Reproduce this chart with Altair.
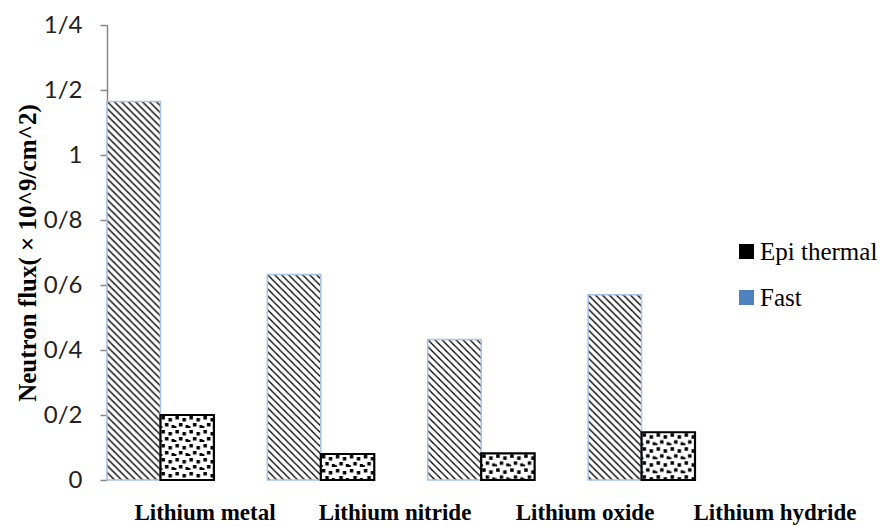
import altair as alt
import pandas as pd
from urllib.parse import quote

# ---------------- data ----------------
categories = ["Lithium metal", "Lithium nitride", "Lithium oxide", "Lithium hydride"]
series = ["Epi thermal", "Fast"]
fast_values = [1.165, 0.632, 0.432, 0.570]
epi_values = [0.200, 0.080, 0.082, 0.147]
y_ticks = [0, 0.2, 0.4, 0.6, 0.8, 1.0, 1.2, 1.4]
y_title = "Neutron flux( \u00d7 10^9/cm^2)"

# ---------------- fill patterns (styles) ----------------
hatch_svg = (
    "<svg xmlns='http://www.w3.org/2000/svg' width='100%' height='100%'>"
    "<defs><pattern id='h' width='7' height='7' patternUnits='userSpaceOnUse'>"
    "<rect width='7' height='7' fill='white'/>"
    "<path d='M-1,-1 L8,8 M-1,6 L1,8 M6,-1 L8,1' stroke='black' stroke-width='1.3'/>"
    "</pattern></defs><rect width='100%' height='100%' fill='url(#h)'/></svg>"
)
confetti_svg = (
    "<svg xmlns='http://www.w3.org/2000/svg' width='100%' height='100%'>"
    "<defs><pattern id='c' width='14' height='14' patternUnits='userSpaceOnUse'>"
    "<rect width='14' height='14' fill='white'/>"
    "<g fill='black'>"
    "<rect x='1' y='1' width='3.5' height='3.5'/>"
    "<rect x='8' y='3' width='3.5' height='3.5'/>"
    "<rect x='4.5' y='8' width='3.5' height='3.5'/>"
    "<rect x='11' y='10' width='3' height='3'/>"
    "<rect x='0' y='11' width='2' height='2'/>"
    "</g></pattern></defs><rect width='100%' height='100%' fill='url(#c)'/></svg>"
)
pattern_url = {
    "Fast": "data:image/svg+xml;charset=utf-8," + quote(hatch_svg),
    "Epi thermal": "data:image/svg+xml;charset=utf-8," + quote(confetti_svg),
}

# ---------------- table built from the arrays ----------------
rows = []
slots = []
for i, cat in enumerate(categories):
    for s, vals in (("Fast", fast_values), ("Epi thermal", epi_values)):
        slot = f"{i}-{s}"
        slots.append(slot)
        rows.append({"slot": slot, "category": cat, "series": s,
                     "value": vals[i], "url": pattern_url[s]})
    if i < len(categories) - 1:
        slots.append(f"{i}-gap")
df = pd.DataFrame(rows)
labels_df = pd.DataFrame({"category": categories})

AXIS_GRAY = "#868686"

x_slot = alt.X(
    "slot:N",
    scale=alt.Scale(domain=slots, paddingInner=0, paddingOuter=0),
    axis=alt.Axis(labels=False, title=None, tickBand="extent", tickSize=7,
                  tickColor=AXIS_GRAY, tickWidth=1.5, domainColor=AXIS_GRAY,
                  domainWidth=1.5),
)
x_slot_noaxis = alt.X("slot:N", scale=alt.Scale(domain=slots, paddingInner=0, paddingOuter=0), axis=None)

y_enc = alt.Y(
    "value:Q",
    scale=alt.Scale(domain=[0, 1.4], nice=False, zero=True),
    axis=alt.Axis(
        values=y_ticks,
        labelExpr="replace(format(datum.value, '.1~f'), '.', '/')",
        grid=False,
        title=y_title,
        titleFont="Liberation Serif",
        titleFontSize=25,
        titleFontWeight="bold",
        titleColor="black",
        titlePadding=3,
        labelFont="Lato",
        labelFontSize=24,
        labelColor="#222222",
        labelPadding=18,
        tickSize=7,
        tickColor=AXIS_GRAY,
        tickWidth=1.5,
        domainColor=AXIS_GRAY,
        domainWidth=1.5,
    ),
)

base = alt.Chart(df)

fill_layer = base.mark_bar().encode(
    x=x_slot,
    y=y_enc,
    y2=alt.datum(0),
    fill=alt.Fill(
        "series:N",
        scale=alt.Scale(domain=series, range=["#000000", "#4F81BD"]),
        legend=alt.Legend(
            title=None,
            orient="none",
            legendX=627,
            legendY=214,
            symbolType="square",
            symbolSize=225,
            symbolStrokeWidth=0,
            labelFont="Liberation Serif",
            labelFontSize=25,
            labelColor="black",
            labelOffset=1,
            rowPadding=20,
            padding=0,
        ),
    ),
)

image_layer = base.mark_image(aspect=False).encode(
    x=x_slot_noaxis,
    y=y_enc,
    y2=alt.datum(0),
    url="url:N",
)

border_layer = base.mark_bar(fillOpacity=0).encode(
    x=x_slot_noaxis,
    y=y_enc,
    y2=alt.datum(0),
    stroke=alt.Stroke("series:N",
                      scale=alt.Scale(domain=series, range=["#000000", "#A9C1EA"]),
                      legend=None),
    strokeWidth=alt.condition(alt.datum.series == "Fast", alt.value(1.5), alt.value(2.2)),
)

bars = alt.layer(fill_layer, image_layer, border_layer)

label_layer = alt.Chart(labels_df).mark_rule(opacity=0).encode(
    x=alt.X(
        "category:N",
        sort=categories,
        scale=alt.Scale(domain=categories, range=[3, 763], paddingInner=0, paddingOuter=0),
        axis=alt.Axis(
            orient="bottom",
            title=None,
            domain=False,
            ticks=False,
            labelAngle=0,
            labelFont="Liberation Serif",
            labelFontSize=23,
            labelFontWeight="bold",
            labelColor="black",
            labelPadding=21,
        ),
    )
)

chart = (
    alt.layer(bars, label_layer)
    .resolve_scale(x="independent")
    .properties(
        width=588,
        height=455,
        padding={"left": 107, "top": 25, "right": 185, "bottom": 47},
        autosize=alt.AutoSizeParams(type="none"),
        background="white",
    )
    .configure_view(strokeWidth=0, stroke="transparent")
)

chart.save("out.html", embed_options={"renderer": "svg", "actions": False})
